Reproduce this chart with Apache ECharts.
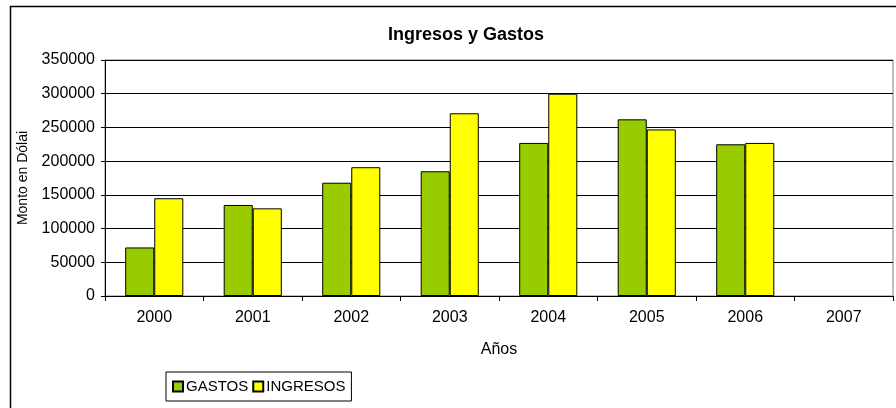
<!DOCTYPE html>
<html><head><meta charset="utf-8">
<script src="https://cdn.jsdelivr.net/npm/echarts@6/dist/echarts.min.js"></script>
<style>html,body{margin:0;padding:0;background:#fff}#c{width:896px;height:408px}</style>
</head><body><div id="c"></div>
<script>
var years = ['2000','2001','2002','2003','2004','2005','2006','2007'];
var gastos = [72000,135000,168000,185000,227000,262000,225000,null];
var ingresos = [145000,130000,191000,271000,300000,247000,227000,null];
var yTicks = {min:0,max:350000,interval:50000};
var F = 'Liberation Sans, Arial, sans-serif';
var chart = echarts.init(document.getElementById('c'), null, {renderer:'canvas'});
chart.setOption({
  animation:false,
  backgroundColor:'#fff',
  title:{text:'Ingresos y Gastos',left:461,top:21,textAlign:'center',
    textStyle:{fontFamily:F,fontSize:18,fontWeight:'bold',color:'#000'}},
  graphic:[{type:'rect',shape:{x:10.5,y:6.5,width:900,height:420},
    style:{fill:null,stroke:'#000',lineWidth:1.5},silent:true,z:-1}],
  grid:{left:105,right:3,top:60,bottom:112,show:true,borderColor:'#808080',borderWidth:1,backgroundColor:'transparent'},
  legend:{left:166,top:372,padding:[7,6,7,6],itemGap:4,itemWidth:10,itemHeight:10,
    borderColor:'#000',borderWidth:1,icon:'rect',
    textStyle:{fontFamily:F,fontSize:15,color:'#000',padding:[0,0,0,-2]},
    data:['GASTOS','INGRESOS']},
  xAxis:{type:'category',data:years,boundaryGap:true,
    name:'Años',nameLocation:'middle',nameGap:46,
    nameTextStyle:{fontFamily:F,fontSize:16,color:'#000'},
    axisLine:{lineStyle:{color:'#000',width:1}},
    axisTick:{show:true,alignWithLabel:false,length:5,lineStyle:{color:'#000'}},
    axisLabel:{fontFamily:F,fontSize:16,color:'#000',margin:14},
    splitLine:{show:false}},
  yAxis:{type:'value',min:yTicks.min,max:yTicks.max,interval:yTicks.interval,
    name:'Monto en Dólai',nameLocation:'middle',nameGap:75,nameRotate:90,
    nameTextStyle:{fontFamily:F,fontSize:14,color:'#000'},
    axisLine:{show:true,lineStyle:{color:'#000',width:1}},
    axisTick:{show:true,length:4,lineStyle:{color:'#000'}},
    axisLabel:{fontFamily:F,fontSize:16,color:'#000',margin:10,formatter:function(v){return String(v);}},
    splitLine:{show:true,lineStyle:{color:'#000',width:1}}},
  series:[
    {name:'GASTOS',type:'bar',data:gastos,barGap:'0%',barCategoryGap:'41%',
      itemStyle:{color:'#99CC00',borderColor:'#000',borderWidth:1}},
    {name:'INGRESOS',type:'bar',data:ingresos,barGap:'0%',barCategoryGap:'41%',
      itemStyle:{color:'#FFFF00',borderColor:'#000',borderWidth:1}}
  ]
});
</script></body></html>
